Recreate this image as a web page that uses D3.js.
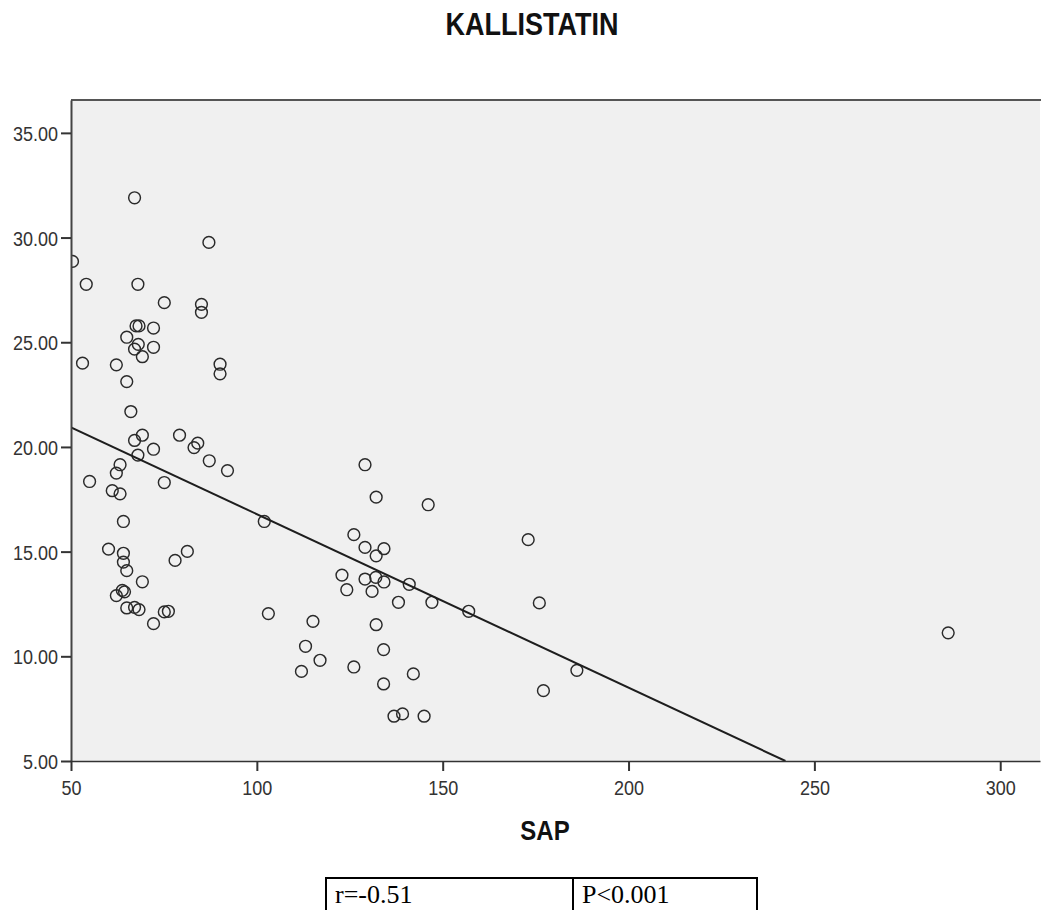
<!DOCTYPE html>
<html>
<head>
<meta charset="utf-8">
<script src="https://cdn.jsdelivr.net/npm/d3@7"></script>
<style>
  html, body { margin: 0; padding: 0; background: #fff; }
  svg { display: block; }
</style>
</head>
<body>
<svg id="chart" width="1041" height="910"></svg>
<script>
// ---- data ----
const chartTitle = "KALLISTATIN";
const xAxisTitle = "SAP";
const sapValues = [67.1, 87.1, 50.4, 54.1, 68.0, 75.1, 85.1, 85.1, 67.5, 68.3,
  72.2, 65.0, 68.1, 72.2, 67.1, 69.2, 53.1, 62.2, 90.1, 90.1,
  65.0, 66.1, 69.2, 67.1, 79.2, 72.2, 84.1, 83.1, 68.0, 87.2,
  92.1, 63.2, 62.2, 55.0, 75.1, 61.1, 63.2, 64.1, 102.0, 60.1,
  64.1, 64.1, 65.0, 69.2, 78.0, 81.3, 62.2, 63.8, 64.4, 65.0,
  67.1, 68.3, 72.2, 75.1, 76.2, 103.1, 129.1, 132.1, 146.1, 126.1,
  129.1, 134.2, 132.1, 122.9, 129.1, 132.0, 134.2, 141.0, 124.2, 131.0,
  138.1, 147.1, 157.0, 115.1, 132.1, 113.1, 117.0, 134.1, 112.0, 126.1,
  142.1, 134.1, 136.9, 139.2, 145.0, 173.0, 176.0, 186.1, 177.1, 286.0];
const kallistatinValues = [31.90, 29.77, 28.86, 27.77, 27.77, 26.89, 26.81, 26.43, 25.78, 25.78,
  25.68, 25.24, 24.90, 24.76, 24.67, 24.31, 24.00, 23.92, 23.95, 23.49,
  23.12, 21.69, 20.56, 20.31, 20.56, 19.89, 20.18, 19.97, 19.61, 19.34,
  18.87, 19.15, 18.75, 18.35, 18.30, 17.91, 17.76, 16.44, 16.44, 15.12,
  14.92, 14.50, 14.09, 13.56, 14.58, 15.01, 12.90, 13.15, 13.08, 12.31,
  12.34, 12.23, 11.56, 12.12, 12.15, 12.04, 19.15, 17.60, 17.24, 15.81,
  15.20, 15.14, 14.80, 13.88, 13.69, 13.77, 13.55, 13.44, 13.18, 13.10,
  12.58, 12.58, 12.15, 11.67, 11.51, 10.48, 9.81, 10.32, 9.28, 9.49,
  9.16, 8.68, 7.14, 7.25, 7.14, 15.57, 12.55, 9.33, 8.36, 11.12];
const xTickValues = [50, 100, 150, 200, 250, 300];
const yTickValues = [5, 10, 15, 20, 25, 30, 35];
const xDomain = [50, 310.7];
const yDomain = [5, 36.57];
const fitIntercept = 25.08;   // fit line: y = a + b*x
const fitSlope = -0.0829;
const statLabels = ["r=-0.51", "P<0.001"];

// ---- layout ----
const L = 71, R = 1040, T = 100, B = 761;
const stretch = 1.16;

const svg = d3.select("#chart");
const x = d3.scaleLinear().domain(xDomain).range([L, R]);
const y = d3.scaleLinear().domain(yDomain).range([B, T]);

// title
svg.append("text")
  .attr("transform", `translate(532,35) scale(1,${stretch})`)
  .attr("text-anchor", "middle")
  .style("font-family", "'Liberation Sans', Arial, sans-serif")
  .style("font-weight", "bold").style("font-size", "27px").attr("fill", "#111")
  .text(chartTitle);

// plot background
svg.append("rect").attr("x", L).attr("y", T).attr("width", R - L).attr("height", B - T)
  .attr("fill", "#f0f0f0");

svg.append("defs").append("clipPath").attr("id", "clip")
  .append("rect").attr("x", L).attr("y", T).attr("width", R - L).attr("height", B - T);

// top border
svg.append("line").attr("x1", L).attr("x2", R + 1).attr("y1", T).attr("y2", T)
  .attr("stroke", "#555").attr("stroke-width", 2);

// points
const pts = sapValues.map((v, i) => ({ sx: v, ky: kallistatinValues[i] }));
svg.append("g").attr("clip-path", "url(#clip)")
  .selectAll("circle").data(pts).join("circle")
  .attr("cx", d => x(d.sx)).attr("cy", d => y(d.ky)).attr("r", 5.9)
  .attr("fill", "none").attr("stroke", "#2a2a2a").attr("stroke-width", 1.45);

// fit line, from left edge to where it meets the bottom of the plot
const xEnd = (yDomain[0] - fitIntercept) / fitSlope;
const fitPts = [xDomain[0], xEnd].map(v => [v, fitIntercept + fitSlope * v]);
svg.append("path").attr("clip-path", "url(#clip)")
  .attr("d", d3.line().x(d => x(d[0])).y(d => y(d[1]))(fitPts))
  .attr("fill", "none").attr("stroke", "#1e1e1e").attr("stroke-width", 2);

// axes
const yAxis = d3.axisLeft(y).tickValues(yTickValues).tickFormat(d3.format(".2f"))
  .tickSize(10).tickSizeOuter(0);
const gy = svg.append("g").attr("transform", `translate(${L},0)`).call(yAxis);
const xAxis = d3.axisBottom(x).tickValues(xTickValues).tickFormat(d3.format("d"))
  .tickSize(10).tickSizeOuter(0);
const gx = svg.append("g").attr("transform", `translate(0,${B})`).call(xAxis);

gy.select(".domain").attr("stroke", "#444").attr("stroke-width", 2);
gx.select(".domain").attr("stroke", "#333").attr("stroke-width", 1.6);
[gx, gy].forEach(g => {
  g.selectAll(".tick line").attr("stroke", "#333").attr("stroke-width", 2);
  g.selectAll(".tick text")
    .style("font-family", "'Liberation Sans', Arial, sans-serif")
    .style("font-size", "18px").attr("fill", "#333");
});
gy.selectAll(".tick text").attr("x", null).attr("dy", null)
  .attr("text-anchor", "end")
  .attr("transform", `translate(-13,7.5) scale(1,${stretch})`);
gx.selectAll(".tick text").attr("y", null).attr("dy", null)
  .attr("transform", `translate(0,34) scale(1,${stretch})`);

// x-axis title
svg.append("text")
  .attr("transform", `translate(545,840) scale(1,${stretch})`)
  .attr("text-anchor", "middle")
  .style("font-family", "'Liberation Sans', Arial, sans-serif")
  .style("font-weight", "bold").style("font-size", "24px").attr("fill", "#111")
  .text(xAxisTitle);

// statistics table
const tblX = [326, 573, 757], tblTop = 878, tblBot = 918;
const tbl = svg.append("g");
tbl.append("rect").attr("x", tblX[0]).attr("y", tblTop)
  .attr("width", tblX[2] - tblX[0]).attr("height", tblBot - tblTop)
  .attr("fill", "none").attr("stroke", "#000").attr("stroke-width", 2);
tbl.append("line").attr("x1", tblX[1]).attr("x2", tblX[1])
  .attr("y1", tblTop).attr("y2", tblBot).attr("stroke", "#000").attr("stroke-width", 2);
tbl.selectAll("text").data(statLabels).join("text")
  .attr("x", (d, i) => tblX[i] + 9).attr("y", 903)
  .style("font-family", "'Liberation Serif', 'Times New Roman', serif")
  .style("font-size", "26px").attr("fill", "#000")
  .text(d => d);
</script>
</body>
</html>
